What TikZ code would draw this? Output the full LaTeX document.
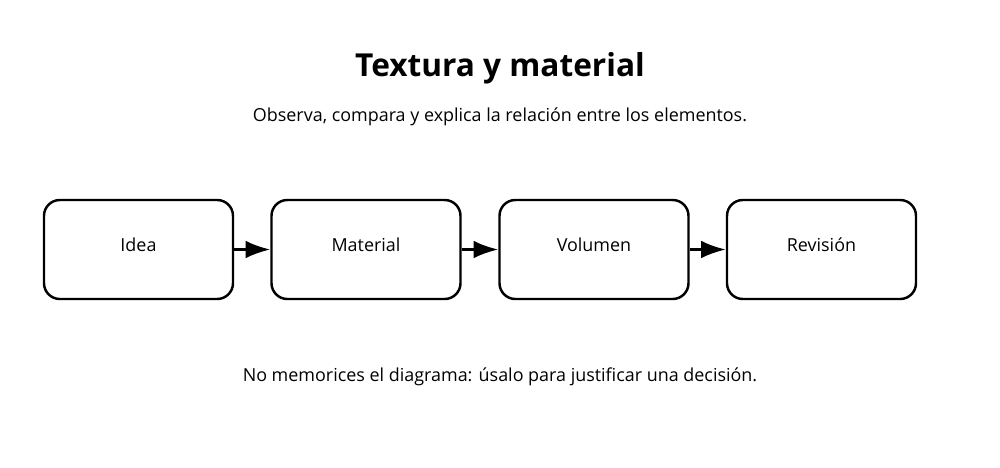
\documentclass[tikz,border=0pt]{standalone}
\usepackage{fontspec}
\setmainfont{Open Sans}
\usetikzlibrary{arrows.meta}
\usetikzlibrary{positioning}
\tikzset{>=Latex}
\tikzstyle{stage} = [draw, line width = 1.4pt, rounded corners = 9pt, minimum width = 3.78cm, minimum height = 1.98cm, align = center, font = \fontsize{10.2}{12}\selectfont]
\tikzstyle{flow} = [-{Latex[length=14pt, width=10pt]}, line width = 1.4pt]

\begin{document}
\begin{tikzpicture}
\useasboundingbox (0, 0) rectangle (20, -9.34);
\node [draw=none, font=\fontsize{18}{22}\selectfont\bfseries] (T) at (10, -1.36) {Textura y material};
\node [draw=none, font=\fontsize{10.2}{12}\selectfont] (S) at (10, -2.34) {Observa, compara y explica la relación entre los elementos.};
\node [stage] (I) at (2.77, -4.99) {\raisebox{6pt}{Idea}};
\node [stage] (M) at (7.32, -4.99) {\raisebox{6pt}{Material}};
\node [stage] (V) at (11.88, -4.99) {\raisebox{6pt}{Volumen}};
\node [stage] (R) at (16.43, -4.99) {\raisebox{6pt}{Revisión}};
\draw [flow] (I) to (M);
\draw [flow] (M) to (V);
\draw [flow] (V) to (R);
\node [draw=none, font=\fontsize{10.2}{12}\selectfont] (F) at (10, -7.54) {No memorices el diagrama: úsalo para justificar una decisión.};
\end{tikzpicture}
\end{document}
